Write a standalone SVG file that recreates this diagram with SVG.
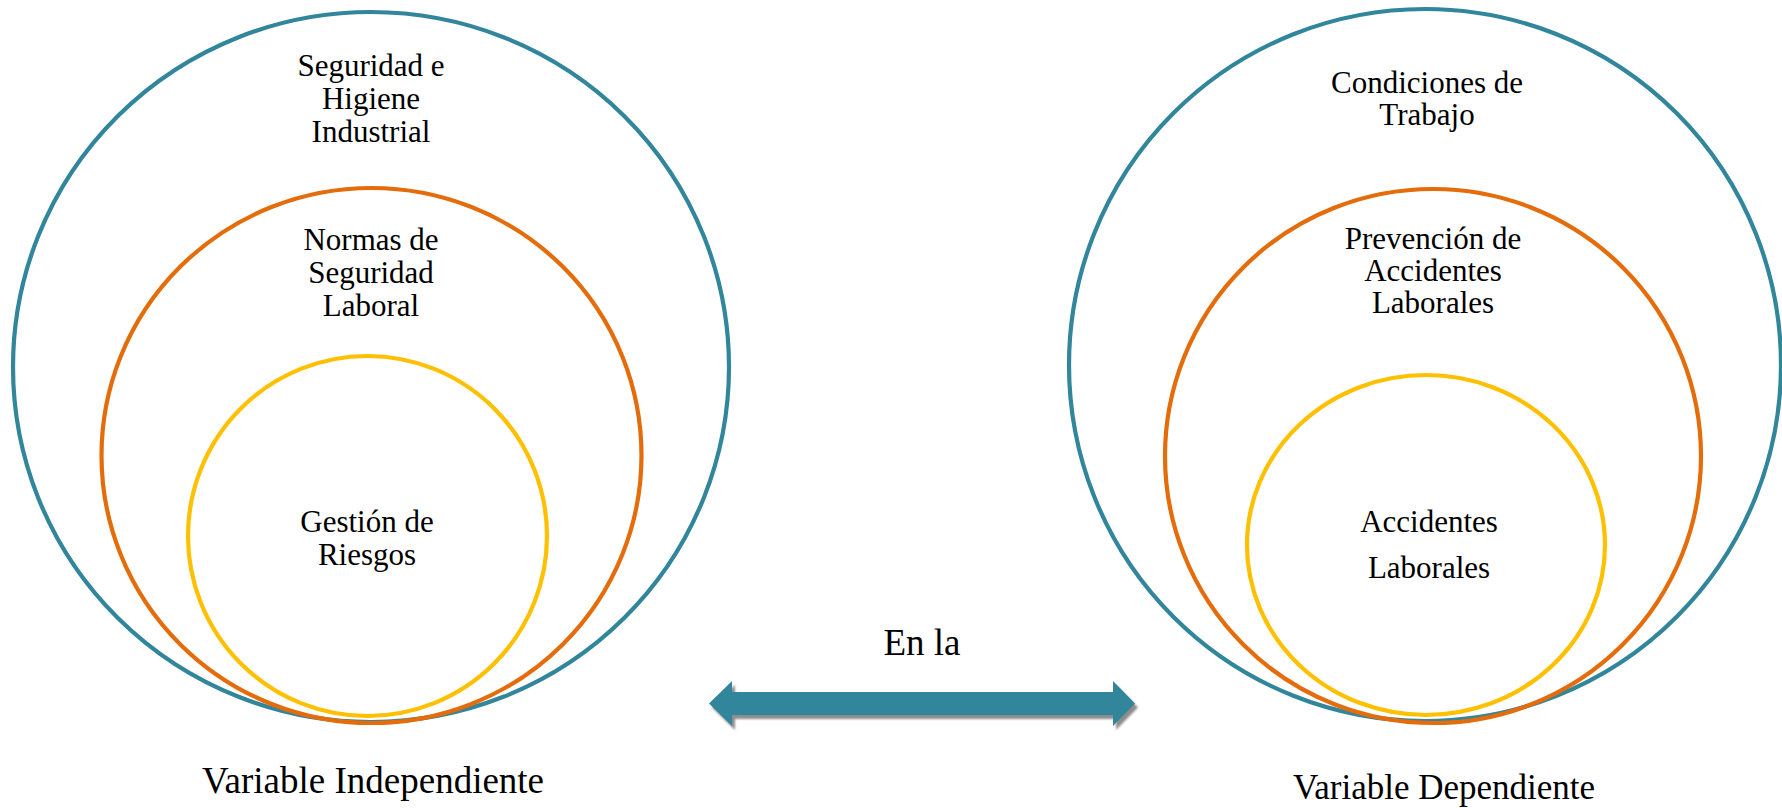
<svg xmlns="http://www.w3.org/2000/svg" width="1782" height="808" viewBox="0 0 1782 808" font-family="'Liberation Serif', 'DejaVu Serif', serif">
<defs>
<style>
.c{fill:none;stroke-width:4.2}
.blue{stroke:#31869B}
.orange{stroke:#E46C0A}
.yellow{stroke:#FFC000}
text{font-family:'Liberation Serif','DejaVu Serif',serif;fill:#000;text-anchor:middle}
.t{font-size:31px}
.big{font-size:37px}
</style>
<filter id="sh" x="-5%" y="-50%" width="110%" height="200%">
<feGaussianBlur stdDeviation="1.2"/>
</filter>
</defs>
<rect width="1782" height="808" fill="#fff"/>
<g id="iv-outer">
<ellipse class="c blue" cx="371" cy="367" rx="358" ry="355"/>
<text class="t" x="371" y="76">Seguridad e</text>
<text class="t" x="371" y="109">Higiene</text>
<text class="t" x="371" y="142">Industrial</text>
</g>
<g id="iv-middle">
<ellipse class="c orange" cx="371.5" cy="455.5" rx="270" ry="267.5"/>
<text class="t" x="371" y="250">Normas de</text>
<text class="t" x="371" y="283">Seguridad</text>
<text class="t" x="371" y="316">Laboral</text>
</g>
<g id="iv-inner">
<ellipse class="c yellow" cx="367.5" cy="536" rx="179.5" ry="180"/>
<text class="t" x="367" y="532">Gestión de</text>
<text class="t" x="367" y="565">Riesgos</text>
</g>
<g id="dv-outer">
<ellipse class="c blue" cx="1425" cy="365" rx="356" ry="356"/>
<text class="t" x="1427" y="93">Condiciones de</text>
<text class="t" x="1427" y="125">Trabajo</text>
</g>
<g id="dv-middle">
<ellipse class="c orange" cx="1433" cy="456" rx="268" ry="267"/>
<text class="t" x="1433" y="249">Prevención de</text>
<text class="t" x="1433" y="281">Accidentes</text>
<text class="t" x="1433" y="313">Laborales</text>
</g>
<g id="dv-inner">
<ellipse class="c yellow" cx="1426" cy="545" rx="179" ry="170"/>
<text class="t" x="1429" y="532">Accidentes</text>
<text class="t" x="1429" y="578">Laborales</text>
</g>
<g id="connectors">
<polygon points="709,703.5 732,681 732,692 1113,692 1113,681 1135,703.5 1113,726 1113,715 732,715 732,726" fill="#8c8c8c" transform="translate(3,4)" filter="url(#sh)"/>
<polygon points="709,703.5 732,681 732,692 1113,692 1113,681 1135,703.5 1113,726 1113,715 732,715 732,726" fill="#31869B"/>
<text class="big" x="922" y="655">En la</text>
</g>
<g id="labels">
<text class="big" x="373" y="793">Variable Independiente</text>
<text style="font-size:35px" x="1444" y="799">Variable Dependiente</text>
</g>
</svg>
